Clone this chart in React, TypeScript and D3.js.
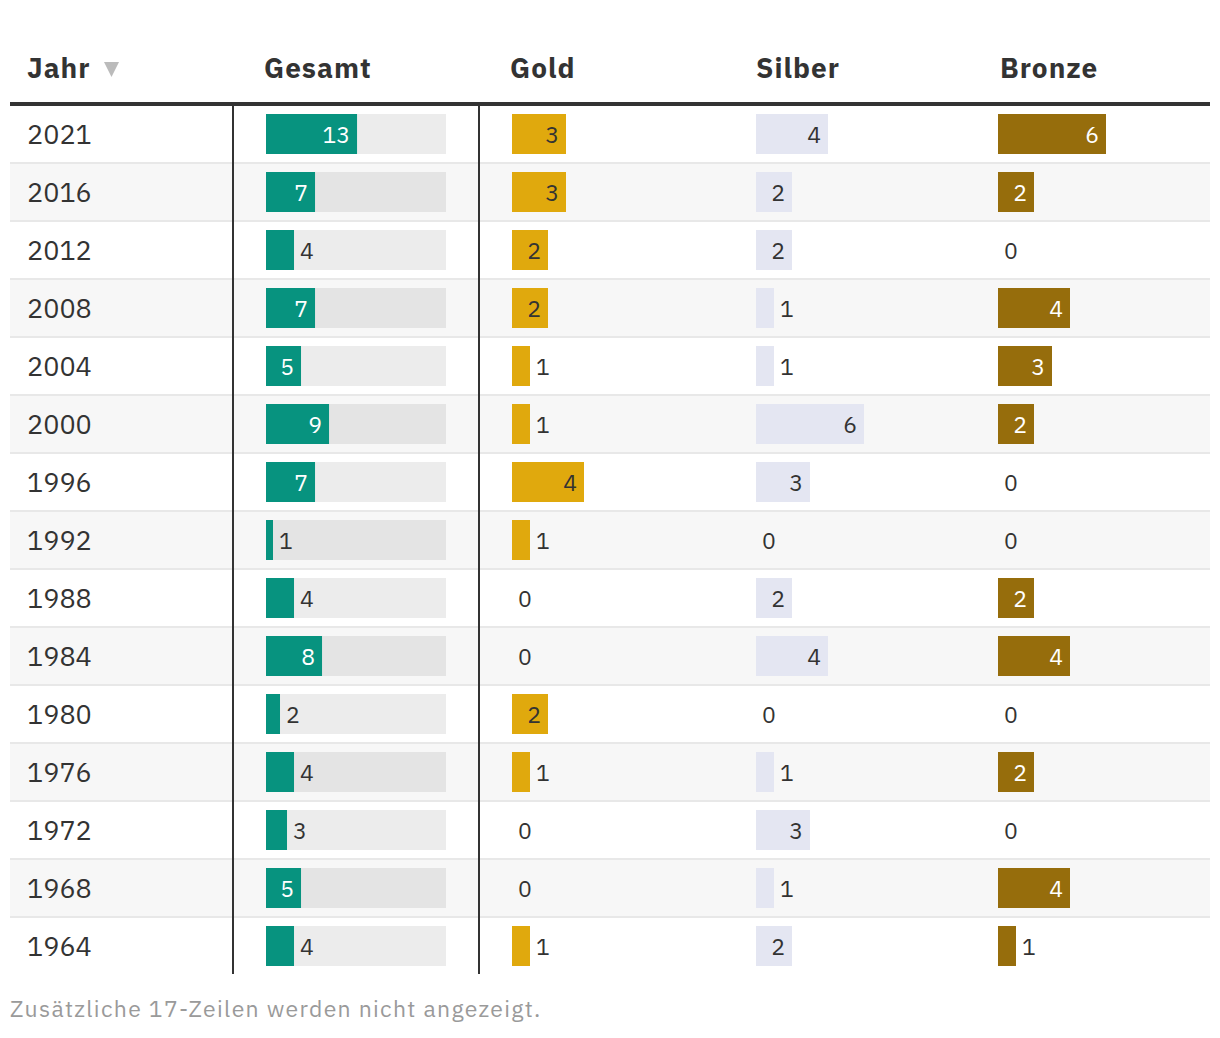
import React from "react";
import * as d3 from "d3";

const years = ["2021", "2016", "2012", "2008", "2004", "2000", "1996", "1992", "1988", "1984", "1980", "1976", "1972", "1968", "1964"];
const gesamt = [13, 7, 4, 7, 5, 9, 7, 1, 4, 8, 2, 4, 3, 5, 4];
const gold = [3, 3, 2, 2, 1, 1, 4, 1, 0, 0, 2, 1, 0, 0, 1];
const silber = [4, 2, 2, 1, 1, 6, 3, 0, 2, 4, 0, 1, 3, 1, 2];
const bronze = [6, 2, 0, 4, 3, 2, 0, 0, 2, 4, 0, 2, 0, 4, 1];
const headers = ["Jahr", "Gesamt", "Gold", "Silber", "Bronze"];
const footer = "Zusätzliche 17-Zeilen werden nicht angezeigt.";

const W = 1220;
const H = 1030;
const FONT = "'IBM Plex Sans', 'Noto Sans', sans-serif";
const TXT = "#333333";
const ROW_TOP = 106;
const ROW_H = 58;
const BAR_H = 40;

const totalScale = d3.scaleLinear().domain([0, 25.7]).range([0, 180]);
const medalScale = d3.scaleLinear().domain([0, 10]).range([0, 180]);

type Col = { key: string; x: number; values: number[]; color: string; inText: string; scale: d3.ScaleLinear<number, number>; bg?: boolean };

const cols: Col[] = [
  { key: "gesamt", x: 266, values: gesamt, color: "#07937f", inText: "#ffffff", scale: totalScale, bg: true },
  { key: "gold", x: 512, values: gold, color: "#e0a90d", inText: TXT, scale: medalScale },
  { key: "silber", x: 756, values: silber, color: "#e4e6f2", inText: TXT, scale: medalScale },
  { key: "bronze", x: 998, values: bronze, color: "#966d0c", inText: "#ffffff", scale: medalScale },
];
const headerX = [27, 264, 510, 756, 1000];

export default function App() {
  const n = years.length;
  const tableBottom = ROW_TOP + ROW_H * (n - 1) + 56;
  return (
    <svg width={W} height={H} style={{ display: "block", marginLeft: -8, marginTop: -8 }} fontFamily={FONT}>
      <rect x={0} y={0} width={W} height={H} fill="#ffffff" />
      {headers.map((h, i) => (
        <text key={h} x={headerX[i]} y={78} fontSize={28} fontWeight={700} fill={TXT} letterSpacing={1}>
          {h}
        </text>
      ))}
      <path d="M104,62 L119,62 L111.5,77 Z" fill="#bbbbbb" />
      <rect x={10} y={102} width={1200} height={4} fill={TXT} />
      {years.map((yr, i) => {
        const top = ROW_TOP + i * ROW_H;
        const by = top + 8;
        const baseY = top + 37;
        return (
          <g key={yr}>
            <rect x={10} y={top} width={1200} height={56} fill={i % 2 === 1 ? "#f7f7f7" : "#ffffff"} />
            {i < n - 1 && <rect x={10} y={top + 56} width={1200} height={2} fill="#e8e8e8" />}
            <text x={27} y={baseY + 1} fontSize={27} fill={TXT}>
              {yr}
            </text>
            {cols.map((c) => {
              const v = c.values[i];
              const w = c.scale(v);
              const inside = w >= 30;
              return (
                <g key={c.key}>
                  {c.bg && <rect x={c.x} y={by} width={c.scale.range()[1]} height={BAR_H} fill="rgba(0,0,0,0.075)" />}
                  {v > 0 && <rect x={c.x} y={by} width={w} height={BAR_H} fill={c.color} />}
                  <text
                    x={inside ? c.x + w - 7 : c.x + w + 6}
                    y={baseY}
                    fontSize={23}
                    textAnchor={inside ? "end" : "start"}
                    fill={inside ? c.inText : TXT}
                  >
                    {v}
                  </text>
                </g>
              );
            })}
          </g>
        );
      })}
      <rect x={232} y={ROW_TOP} width={2} height={tableBottom - ROW_TOP} fill={TXT} />
      <rect x={478} y={ROW_TOP} width={2} height={tableBottom - ROW_TOP} fill={TXT} />
      <text x={10} y={1017} fontSize={23} fill="#9a9a9a" letterSpacing={1.3}>
        {footer}
      </text>
    </svg>
  );
}
